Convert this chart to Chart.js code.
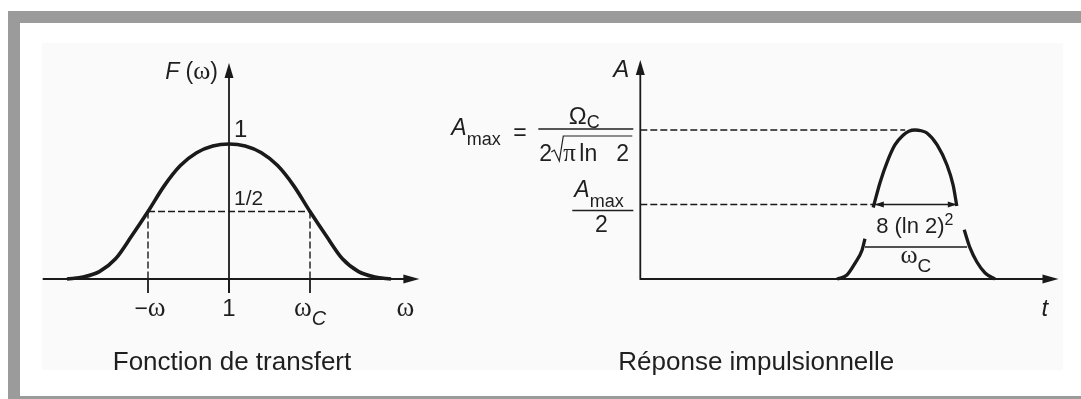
<!DOCTYPE html>
<html lang="fr">
<head>
<meta charset="utf-8">
<title>Fonction de transfert et réponse impulsionnelle</title>
<script src="https://cdn.jsdelivr.net/npm/chart.js@4.4.1/dist/chart.umd.min.js"></script>
<style>
  html, body { margin: 0; padding: 0; background: #fff; }
  #page { position: relative; width: 1081px; height: 399px; overflow: hidden; }
  .band { position: absolute; background: #9b9b9b; }
  #panel { position: absolute; left: 42px; top: 43px; width: 1021px; height: 327px; background: #fafafa; }
  canvas { position: absolute; left: 0; top: 0; }
</style>
</head>
<body>
<div id="page">
  <div class="band" style="left:8px;top:11px;width:1073px;height:12px"></div>
  <div class="band" style="left:8px;top:11px;width:12px;height:388px"></div>
  <div class="band" style="left:8px;top:396px;width:1073px;height:3px"></div>
  <div id="panel"></div>
  <canvas id="gain" width="1081" height="399"></canvas>
  <canvas id="pulse" width="1081" height="399"></canvas>
</div>
<script>
// --- données ---------------------------------------------------------------

// Fonction de transfert : gain normalisé, abscisse en unités de ωc
const gainW = [-2.0, -1.8, -1.6, -1.4, -1.2, -1.0, -0.8, -0.6, -0.4, -0.2, 0,
               0.2, 0.4, 0.6, 0.8, 1.0, 1.2, 1.4, 1.6, 1.8, 2.0];
const gainF = [0, 0.015, 0.055, 0.15, 0.32, 0.5, 0.69, 0.84, 0.935, 0.985, 1,
               0.985, 0.935, 0.84, 0.69, 0.5, 0.32, 0.15, 0.055, 0.015, 0];
const gainTicks = [-1, 0, 1];
const gainHalf = 0.5;

// Réponse impulsionnelle : sommet (au-dessus de Amax/2) et pieds de la courbe
const pulseT = [5.68, 5.85, 6.02, 6.21, 6.41, 6.55, 6.70, 6.85, 6.99, 7.24, 7.48, 7.63, 7.72];
const pulseA = [0.48, 0.65, 0.785, 0.90, 0.965, 0.992, 1.0, 0.995, 0.98, 0.90, 0.765, 0.63, 0.49];
const footLeftT = [4.80, 5.04, 5.24, 5.41, 5.48];
const footLeftA = [0, 0.027, 0.107, 0.195, 0.27];
const footRightT = [7.90, 8.04, 8.21, 8.41, 8.65];
const footRightA = [0.33, 0.21, 0.114, 0.04, 0];
const ampMax = 1;
const ampHalf = 0.5;
const peakT = 6.46;       // fin du pointillé Amax
const halfSpan = [5.72, 7.72];
const baseSpan = [5.48, 7.97];
const baseLevel = 0.215;

// --- outils de dessin -------------------------------------------------------

const SANS = '"Liberation Sans", Arial, Helvetica, sans-serif';
const SERIF = '"Liberation Serif", "DejaVu Serif", serif';
const INK = '#1a1a1a';
const TXT = '#1f1f1f';

const pts = (xs, ys) => xs.map((x, i) => ({ x, y: ys[i] }));

function seg(ctx, x1, y1, x2, y2) {
  ctx.beginPath(); ctx.moveTo(x1, y1); ctx.lineTo(x2, y2); ctx.stroke();
}

function arrowHead(ctx, x, y, dir, len = 15, half = 4.5) {
  ctx.beginPath();
  ctx.moveTo(x, y);
  if (dir === 'up') { ctx.lineTo(x - half, y + len); ctx.lineTo(x + half, y + len); }
  if (dir === 'right') { ctx.lineTo(x - len, y - half); ctx.lineTo(x - len, y + half); }
  if (dir === 'left') { ctx.lineTo(x + len, y - half); ctx.lineTo(x + len, y + half); }
  ctx.closePath(); ctx.fill();
}

// texte composé de morceaux [texte, police, décalage vertical]
function rich(ctx, parts, x, y, align = 'left') {
  let w = 0;
  parts.forEach(p => { ctx.font = p[1]; w += ctx.measureText(p[0]).width; });
  let cx = align === 'center' ? x - w / 2 : align === 'right' ? x - w : x;
  parts.forEach(p => {
    ctx.font = p[1];
    ctx.fillText(p[0], cx, y + (p[2] || 0));
    cx += ctx.measureText(p[0]).width;
  });
}

const curveStyle = { pointRadius: 0, borderColor: INK, borderWidth: 3.6,
                     cubicInterpolationMode: 'monotone', clip: false };
const dashStyle = { pointRadius: 0, borderColor: INK, borderWidth: 1.4,
                    borderDash: [7, 3], tension: 0, clip: false };
const thinStyle = { pointRadius: 0, borderColor: INK, borderWidth: 1.4, tension: 0, clip: false };

function baseOptions(xMin, xMax, yMax, padding) {
  return {
    responsive: false, animation: false, devicePixelRatio: 1, events: [],
    layout: { padding },
    plugins: { legend: { display: false }, tooltip: { enabled: false } },
    scales: {
      x: { type: 'linear', display: false, min: xMin, max: xMax },
      y: { type: 'linear', display: false, min: 0, max: yMax }
    }
  };
}

// --- fonction de transfert ---------------------------------------------------

const gainDecor = {
  id: 'gainDecor',
  beforeDatasetsDraw(chart) {
    const { ctx, scales: { x, y } } = chart;
    const x0 = x.getPixelForValue(0), y0 = y.getPixelForValue(0);
    ctx.save();
    ctx.strokeStyle = INK; ctx.fillStyle = INK; ctx.lineWidth = 1.8;
    seg(ctx, x.left, y0, x.right - 12, y0);
    arrowHead(ctx, x.right, y0, 'right', 16, 4.5);
    seg(ctx, x0, y0 + 14, x0, y.top + 12);
    arrowHead(ctx, x0, y.top, 'up', 15, 4.5);
    gainTicks.forEach(v => {
      const px = x.getPixelForValue(v);
      seg(ctx, px, y0, px, y0 + 14);
    });
    ctx.restore();
  },
  afterDraw(chart) {
    const { ctx, scales: { x, y } } = chart;
    const x0 = x.getPixelForValue(0), y0 = y.getPixelForValue(0);
    ctx.save();
    ctx.fillStyle = TXT; ctx.textBaseline = 'alphabetic';
    rich(ctx, [['F', 'italic 23px ' + SANS], [' (', '23px ' + SANS], ['ω', '26px ' + SERIF], [')', '23px ' + SANS]],
         x0 - 11, y.top + 16, 'right');
    rich(ctx, [['1', '24px ' + SANS]], x0 + 5, y.getPixelForValue(1) - 7);
    rich(ctx, [['1/2', '21px ' + SANS]], x0 + 5, y.getPixelForValue(gainHalf) - 7);
    const ty = y0 + 37;
    rich(ctx, [['−', '23px ' + SANS], ['ω', '27px ' + SERIF]], x.getPixelForValue(gainTicks[0]) + 2, ty, 'center');
    rich(ctx, [['1', '24px ' + SANS]], x.getPixelForValue(gainTicks[1]), ty, 'center');
    rich(ctx, [['ω', '27px ' + SERIF], ['C', 'italic 20px ' + SANS, 9]], x.getPixelForValue(gainTicks[2]), ty, 'center');
    rich(ctx, [['ω', '27px ' + SERIF]], x.right - 14, ty, 'center');
    rich(ctx, [['Fonction de transfert', '26px ' + SANS]], x0 + 3, y0 + 91, 'center');
    ctx.restore();
  }
};

new Chart(document.getElementById('gain'), {
  type: 'line',
  data: {
    datasets: [
      { ...curveStyle, data: pts(gainW, gainF) },
      { ...dashStyle, data: [{ x: gainTicks[0], y: gainHalf }, { x: gainTicks[2], y: gainHalf }] },
      { ...dashStyle, data: [{ x: gainTicks[0], y: gainHalf }, { x: gainTicks[0], y: 0 }] },
      { ...dashStyle, data: [{ x: gainTicks[2], y: gainHalf }, { x: gainTicks[2], y: 0 }] }
    ]
  },
  options: baseOptions(-2.3, 2.35, 1.6, { left: 42.7, right: 661.65, top: 63, bottom: 120 }),
  plugins: [gainDecor]
});

// --- réponse impulsionnelle --------------------------------------------------

const pulseDecor = {
  id: 'pulseDecor',
  beforeDatasetsDraw(chart) {
    const { ctx, scales: { x, y } } = chart;
    const y0 = y.getPixelForValue(0);
    ctx.save();
    ctx.strokeStyle = INK; ctx.fillStyle = INK; ctx.lineWidth = 1.8;
    seg(ctx, x.left, y0, x.right - 12, y0);
    arrowHead(ctx, x.right, y0, 'right', 16, 4.5);
    seg(ctx, x.left, y0 + 0.9, x.left, y.top + 12);
    arrowHead(ctx, x.left, y.top, 'up', 15, 4.5);
    // flèches de la largeur à mi-hauteur
    const yh = y.getPixelForValue(ampHalf);
    arrowHead(ctx, x.getPixelForValue(halfSpan[0]), yh, 'left', 9, 3);
    arrowHead(ctx, x.getPixelForValue(halfSpan[1]), yh, 'right', 9, 3);
    ctx.restore();
  },
  afterDraw(chart) {
    const { ctx, scales: { x, y } } = chart;
    const ax = x.left, y0 = y.getPixelForValue(0);
    const yM = y.getPixelForValue(ampMax), yH = y.getPixelForValue(ampHalf);
    ctx.save();
    ctx.fillStyle = TXT; ctx.strokeStyle = TXT; ctx.textBaseline = 'alphabetic';

    rich(ctx, [['A', 'italic 24px ' + SANS]], ax - 11, y.top + 17, 'right');

    // Amax = Ωc / (2 √(π ln 2))
    rich(ctx, [['A', 'italic 23px ' + SANS], ['max', '18px ' + SANS, 10]], ax - 189, yM + 5);
    rich(ctx, [['=', '23px ' + SANS]], ax - 127, yM + 10);
    ctx.lineWidth = 1.5;
    seg(ctx, ax - 102, yM - 1, ax - 7, yM - 1);
    rich(ctx, [['Ω', '24px ' + SANS], ['C', '18px ' + SANS, 4]], ax - 56, yM - 6, 'center');
    rich(ctx, [['2', '23px ' + SANS]], ax - 101, yM + 31);
    ctx.lineWidth = 1.2;
    ctx.beginPath();
    ctx.moveTo(ax - 89, yM + 22); ctx.lineTo(ax - 86, yM + 20); ctx.lineTo(ax - 81, yM + 31);
    ctx.lineTo(ax - 77, yM + 6); ctx.lineTo(ax - 8, yM + 6);
    ctx.stroke();
    rich(ctx, [['π', '25px ' + SERIF]], ax - 77, yM + 31);
    rich(ctx, [['ln', '23px ' + SANS]], ax - 61, yM + 31);
    rich(ctx, [['2', '23px ' + SANS]], ax - 24, yM + 31);

    // Amax / 2
    rich(ctx, [['A', 'italic 23px ' + SANS], ['max', '18px ' + SANS, 10]], ax - 66, yH - 8);
    ctx.lineWidth = 1.5;
    seg(ctx, ax - 68, yH + 6, ax - 7, yH + 6);
    rich(ctx, [['2', '23px ' + SANS]], ax - 39, yH + 27, 'center');

    // cotes sur l'impulsion
    const xl = x.getPixelForValue(halfSpan[0]), xr = x.getPixelForValue(halfSpan[1]);
    rich(ctx, [['8 (ln 2)', '22px ' + SANS], ['2', '16px ' + SANS, -8]], (xl + xr) / 2 - 1, yH + 28, 'center');
    rich(ctx, [['ω', '26px ' + SERIF], ['C', '19px ' + SANS, 9]], (xl + xr) / 2, y.getPixelForValue(baseLevel) + 16, 'center');

    rich(ctx, [['t', 'italic 24px ' + SANS]], x.right - 17, y0 + 37);
    rich(ctx, [['Réponse impulsionnelle', '26px ' + SANS]], ax + 116, y0 + 91, 'center');
    ctx.restore();
  }
};

new Chart(document.getElementById('pulse'), {
  type: 'line',
  data: {
    datasets: [
      { ...curveStyle, borderWidth: 3.3, data: pts(pulseT, pulseA) },
      { ...curveStyle, borderWidth: 3.3, data: pts(footLeftT, footLeftA) },
      { ...curveStyle, borderWidth: 3.3, data: pts(footRightT, footRightA) },
      { ...dashStyle, data: [{ x: 0, y: ampMax }, { x: peakT, y: ampMax }] },
      { ...dashStyle, data: [{ x: 0, y: ampHalf }, { x: pulseT[0], y: ampHalf }] },
      { ...thinStyle, data: [{ x: halfSpan[0], y: ampHalf }, { x: halfSpan[1], y: ampHalf }] },
      { ...thinStyle, data: [{ x: baseSpan[0], y: baseLevel }, { x: baseSpan[1], y: baseLevel }] }
    ]
  },
  options: baseOptions(0, 10.2, 1.47, { left: 640.3, right: 22.5, top: 60, bottom: 120 }),
  plugins: [pulseDecor]
});
</script>
</body>
</html>
